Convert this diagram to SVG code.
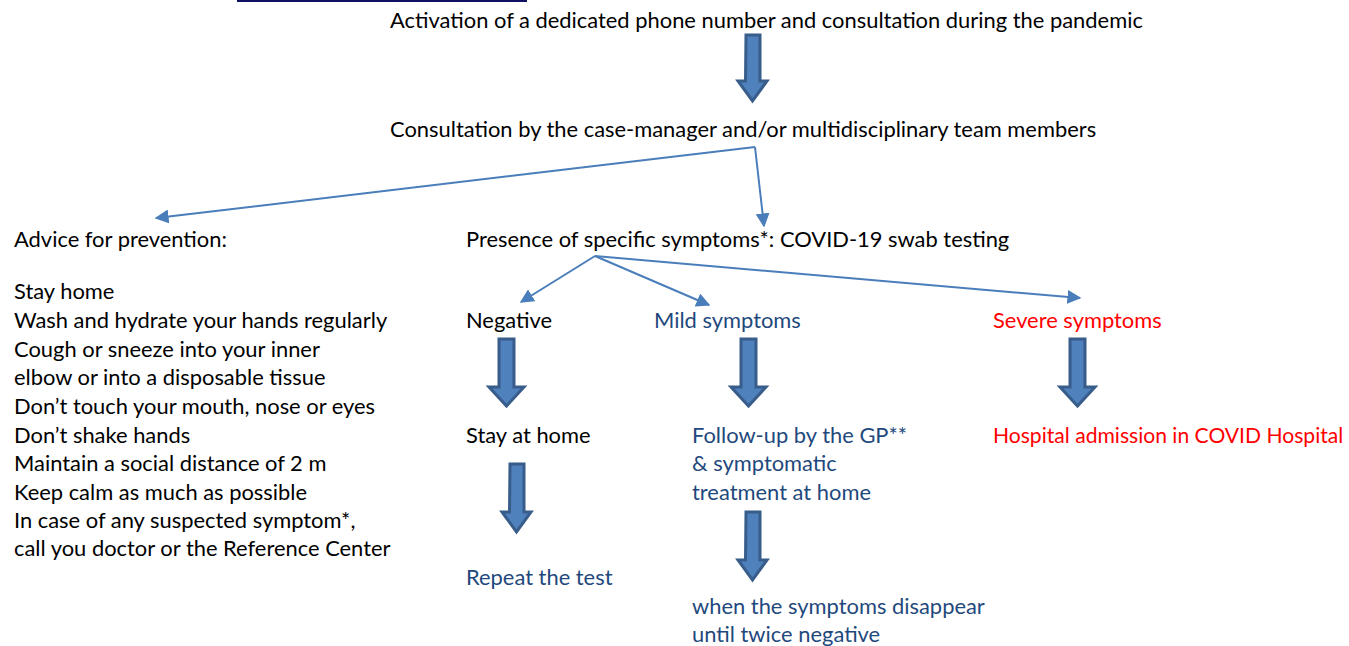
<svg xmlns="http://www.w3.org/2000/svg" width="1349" height="646" viewBox="0 0 1349 646">
<defs>
<style>
text{font-family:Lato,"Open Sans","Liberation Sans",sans-serif;font-size:21.9px;fill:#000}
.b{fill:#1f497d}
.r{fill:#ff0000}
.blk{fill:#4f81bd;stroke:#385d8a;stroke-width:3;stroke-linejoin:miter}
</style>
<marker id="ah2" viewBox="0 0 10 10" refX="9" refY="5" markerWidth="7" markerHeight="7" orient="auto" markerUnits="strokeWidth">
<path d="M0,0L10,5L0,10z" fill="#4a7ebb"/>
</marker>
</defs>
<rect x="237" y="0" width="290" height="2" fill="#0f1063"/>
<g id="connectors">
<line x1="755" y1="147" x2="156" y2="218" stroke="#4a7ebb" stroke-width="2" marker-end="url(#ah2)"/>
<line x1="755" y1="147" x2="764" y2="226" stroke="#4a7ebb" stroke-width="2" marker-end="url(#ah2)"/>
<line x1="595" y1="256" x2="521" y2="302" stroke="#4a7ebb" stroke-width="2" marker-end="url(#ah2)"/>
<line x1="595" y1="256" x2="709" y2="305" stroke="#4a7ebb" stroke-width="2" marker-end="url(#ah2)"/>
<line x1="595" y1="256" x2="1080" y2="298" stroke="#4a7ebb" stroke-width="2" marker-end="url(#ah2)"/>
<path class="blk" d="M746,35h14v46h7l-14.5,20l-14.5,-20h7.5z"/>
<path class="blk" d="M499,339h15v48h10l-17.5,19l-17.5,-19h10z"/>
<path class="blk" d="M741,339h15v48h10l-17.5,19l-17.5,-19h10z"/>
<path class="blk" d="M1070,339h15v48h10l-17.5,19l-17.5,-19h10z"/>
<path class="blk" d="M510,464h14v48h7l-14.5,20l-14.5,-20h7.5z"/>
<path class="blk" d="M746,512h14v48h7l-14.5,20l-14.5,-20h7.5z"/>
</g>
<g id="n-activation"><text x="390" y="28">Activation of a dedicated phone number and consultation during the pandemic</text></g>
<g id="n-consultation"><text x="390" y="137">Consultation by the case-manager and/or multidisciplinary team members</text></g>
<g id="n-advice">
<text x="14" y="247">Advice for prevention:</text>
<text x="14" y="299">Stay home</text>
<text x="14" y="328">Wash and hydrate your hands regularly</text>
<text x="14" y="357">Cough or sneeze into your inner</text>
<text x="14" y="385">elbow or into a disposable tissue</text>
<text x="14" y="414">Don’t touch your mouth, nose or eyes</text>
<text x="14" y="443">Don’t shake hands</text>
<text x="14" y="471">Maintain a social distance of 2 m</text>
<text x="14" y="500">Keep calm as much as possible</text>
<text x="14" y="528">In case of any suspected symptom*,</text>
<text x="14" y="556">call you doctor or the Reference Center</text>
</g>
<g id="n-presence"><text x="466" y="247">Presence of specific symptoms*: COVID-19 swab testing</text></g>
<g id="n-negative"><text x="466" y="328">Negative</text></g>
<g id="n-mild"><text class="b" x="654" y="328">Mild symptoms</text></g>
<g id="n-severe"><text class="r" x="993" y="328">Severe symptoms</text></g>
<g id="n-stay"><text x="466" y="443">Stay at home</text></g>
<g id="n-followup">
<text class="b" x="692" y="443">Follow-up by the GP**</text>
<text class="b" x="692" y="471">&amp; symptomatic</text>
<text class="b" x="692" y="500">treatment at home</text>
</g>
<g id="n-hospital"><text class="r" x="993" y="443" style="font-size:21.1px">Hospital admission in COVID Hospital</text></g>
<g id="n-repeat"><text class="b" x="466" y="585">Repeat the test</text></g>
<g id="n-disappear">
<text class="b" x="692" y="614">when the symptoms disappear</text>
<text class="b" x="692" y="642">until twice negative</text>
</g>
</svg>
